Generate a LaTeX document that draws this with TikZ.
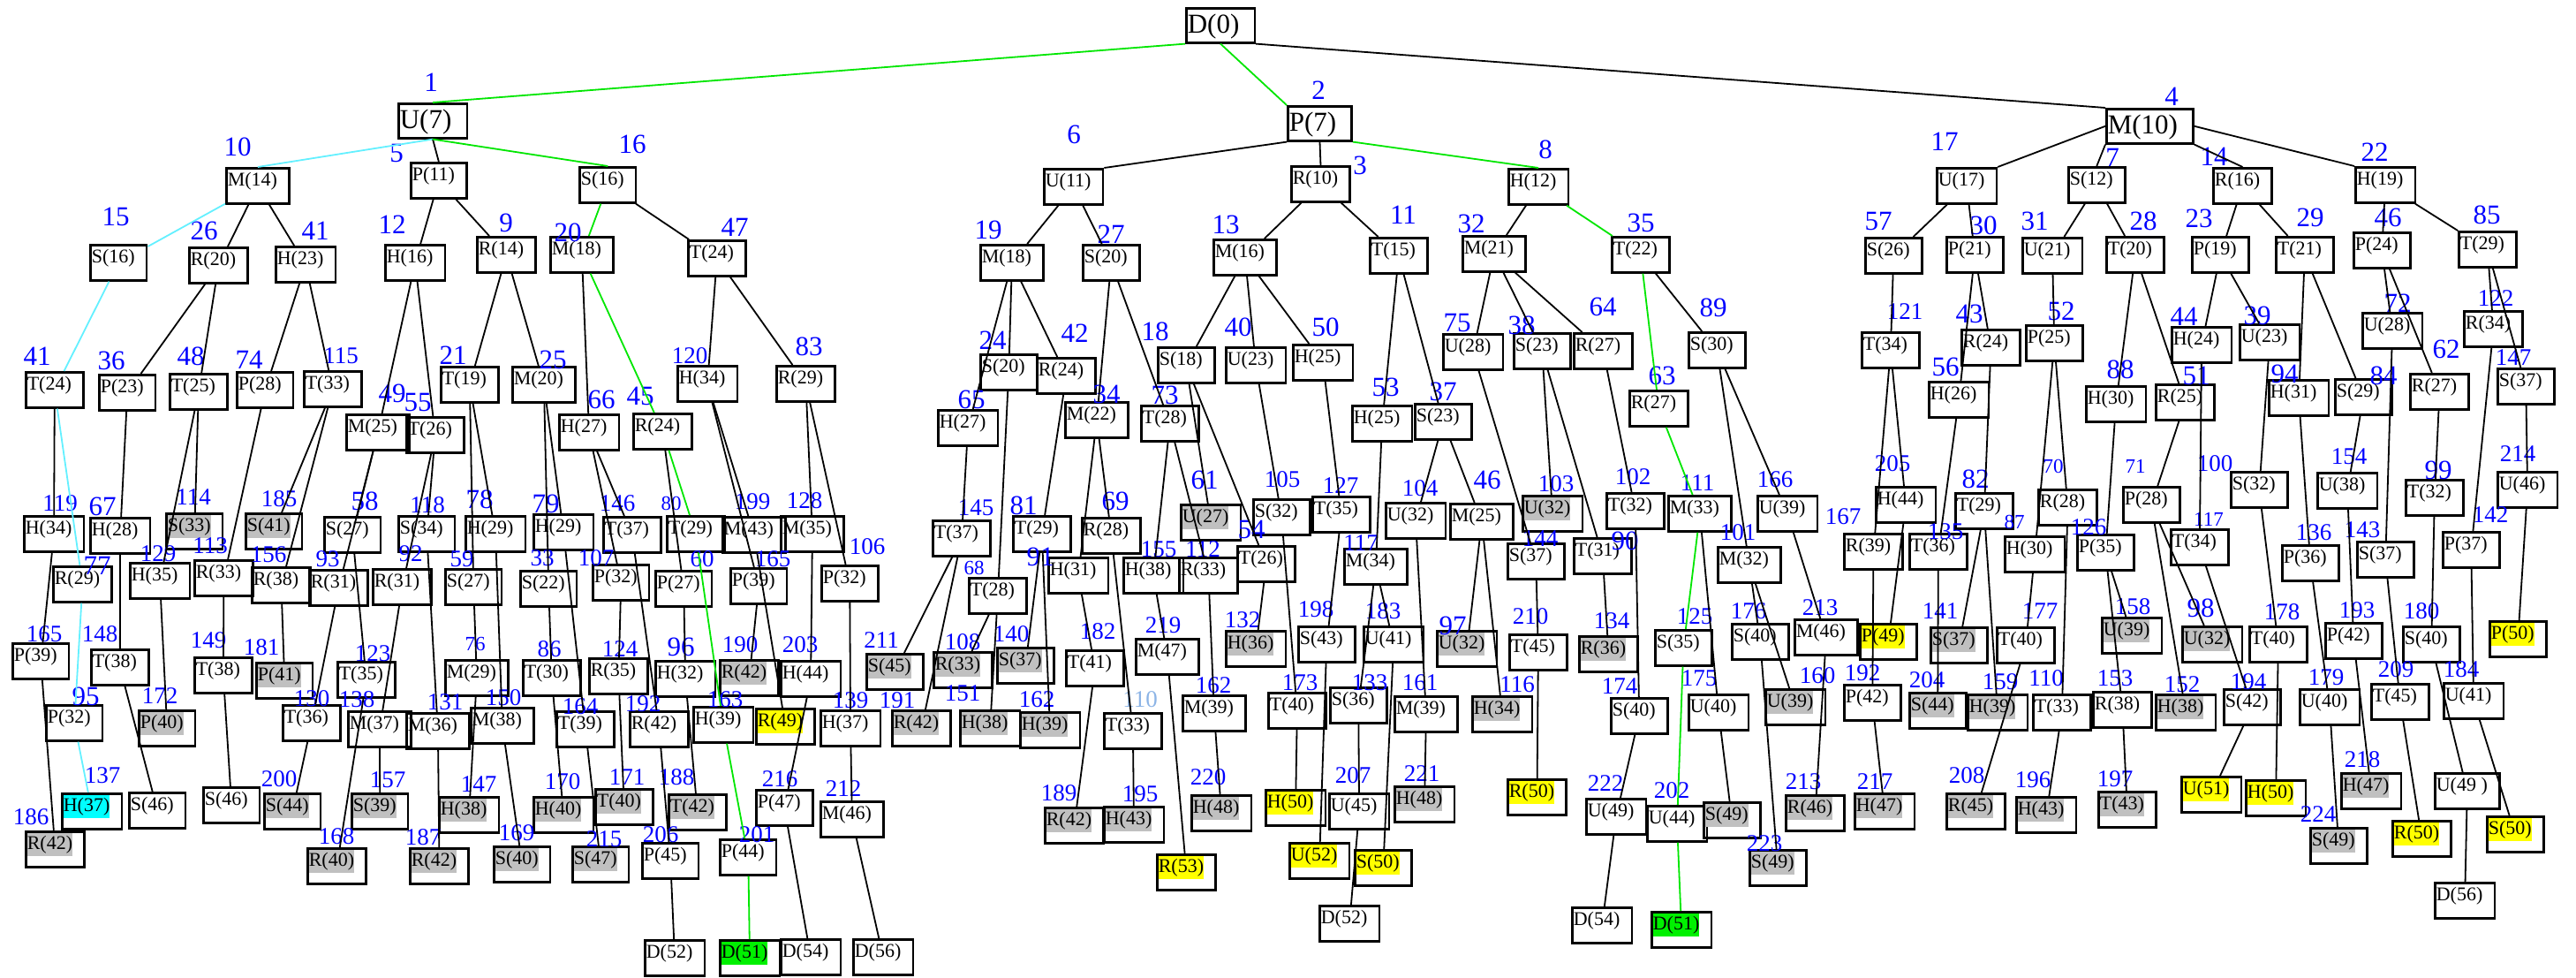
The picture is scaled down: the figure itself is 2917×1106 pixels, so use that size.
\documentclass[tikz,border=0pt]{standalone}
\usepackage{fontspec}
\setmainfont{Liberation Serif}

\definecolor{lgreen}{RGB}{0,230,0}
\definecolor{lcyan}{RGB}{100,240,255}
\definecolor{lblue}{RGB}{140,180,230}
\definecolor{hlgray}{RGB}{192,192,192}
\definecolor{hlyellow}{RGB}{255,255,0}
\definecolor{hlcyan}{RGB}{0,255,255}
\definecolor{hlgreen}{RGB}{0,240,0}

% coloured background behind a state label
\newcommand\hilite[2]{{\setlength{\fboxsep}{0pt}\colorbox{#1}{\strut #2}}}

\begin{document}
\begin{tikzpicture}
    [
    x=1pt, y=-1pt,
    frame/.style={draw,line width=2.6pt,anchor=north west,inner xsep=1.5pt,inner ysep=0pt},
    box/.style={frame,text height=20pt,text depth=20pt,font=\fontsize{22}{26}\selectfont,execute at end node={\hspace{12pt}}},
    bigbox/.style={frame,text height=28pt,text depth=11pt,font=\fontsize{31}{36}\selectfont,execute at end node={\hspace{16pt}}},
    idx/.style={text=blue,inner sep=0pt,font=\fontsize{31}{31}\selectfont},
    idxs/.style={idx,font=\fontsize{27}{27}\selectfont},
    idxt/.style={idx,font=\fontsize{23}{23}\selectfont},
    link/.style={line width=1.8pt},
    gpath/.style={link,draw=lgreen},
    cpath/.style={link,draw=lcyan},
    ]
    \useasboundingbox (0,0) rectangle (2917,1106);

    % root and first level
    \node (D0) at (1342,8) [bigbox] {D(0)};
    \node (U7) at (450,116) [bigbox] {U(7)};
    \node (P7) at (1457,119) [bigbox] {P(7)};
    \node (M10) at (2384,122) [bigbox] {M(10)};

    % second level
    \node (M14) at (255,189) [box] {M(14)};
    \node (P11) at (464,183) [box] {P(11)};
    \node (S16a) at (655,188) [box] {S(16)};
    \node (U11) at (1181,190) [box] {U(11)};
    \node (R10) at (1461,187) [box] {R(10)};
    \node (H12) at (1707,190) [box] {H(12)};
    \node (U17) at (2192,189) [box] {U(17)};
    \node (S12) at (2341,188) [box] {S(12)};
    \node (R16) at (2505,189) [box] {R(16)};
    \node (H19) at (2666,188) [box] {H(19)};

    % third level
    \node (S16b) at (101,276) [box] {S(16)};
    \node (R20) at (213,279) [box] {R(20)};
    \node (H23) at (311,278) [box] {H(23)};
    \node (H16) at (435,276) [box] {H(16)};
    \node (R14) at (539,267) [box] {R(14)};
    \node (M18a) at (622,267) [box] {M(18)};
    \node (T24b) at (778,271) [box] {T(24)};
    \node (M18b) at (1109,276) [box] {M(18)};
    \node (S20a) at (1225,276) [box] {S(20)};
    \node (M16) at (1373,270) [box] {M(16)};
    \node (T15) at (1550,268) [box] {T(15)};
    \node (M21) at (1655,266) [box] {M(21)};
    \node (T22) at (1824,267) [box] {T(22)};
    \node (S26) at (2111,268) [box] {S(26)};
    \node (P21) at (2203,267) [box] {P(21)};
    \node (U21) at (2289,268) [box] {U(21)};
    \node (T20) at (2384,267) [box] {T(20)};
    \node (P19) at (2481,267) [box] {P(19)};
    \node (T21) at (2576,267) [box] {T(21)};
    \node (P24) at (2664,262) [box] {P(24)};
    \node (T29a) at (2783,261) [box] {T(29)};

    % fourth level
    \node (T24a) at (28,420) [box] {T(24)};
    \node (P23) at (111,423) [box] {P(23)};
    \node (T25) at (191,422) [box] {T(25)};
    \node (P28) at (267,420) [box] {P(28)};
    \node (T33) at (343,419) [box] {T(33)};
    \node (M25) at (391,468) [box] {M(25)};
    \node (T26) at (459,471) [box] {T(26)};
    \node (T19) at (498,414) [box] {T(19)};
    \node (M20) at (579,414) [box] {M(20)};
    \node (H27a) at (632,468) [box] {H(27)};
    \node (R24a) at (716,467) [box] {R(24)};
    \node (H34a) at (766,413) [box] {H(34)};
    \node (R29a) at (878,413) [box] {R(29)};
    \node (S20b) at (1109,400) [box] {S(20)};
    \node (R24b) at (1173,404) [box] {R(24)};
    \node (H27b) at (1061,463) [box] {H(27)};
    \node (M22) at (1205,454) [box] {M(22)};
    \node (T28a) at (1291,458) [box] {T(28)};
    \node (S18) at (1310,392) [box] {S(18)};
    \node (U23a) at (1387,392) [box] {U(23)};
    \node (H25a) at (1463,389) [box] {H(25)};
    \node (H25b) at (1530,458) [box] {H(25)};
    \node (S23a) at (1601,456) [box] {S(23)};
    \node (U28a) at (1633,377) [box] {U(28)};
    \node (S23b) at (1713,376) [box] {S(23)};
    \node (R27a) at (1781,376) [box] {R(27)};
    \node (R27b) at (1844,441) [box] {R(27)};
    \node (S30) at (1911,375) [box] {S(30)};
    \node (T34a) at (2107,375) [box] {T(34)};
    \node (R24c) at (2220,372) [box] {R(24)};
    \node (P25) at (2293,367) [box] {P(25)};
    \node (H24) at (2458,369) [box] {H(24)};
    \node (U23b) at (2535,366) [box] {U(23)};
    \node (U28b) at (2674,353) [box] {U(28)};
    \node (R34) at (2789,351) [box] {R(34)};
    \node (S37a) at (2827,416) [box] {S(37)};
    \node (R27c) at (2728,422) [box] {R(27)};
    \node (S29) at (2643,428) [box] {S(29)};
    \node (H31) at (2568,429) [box] {H(31)};
    \node (R25) at (2440,434) [box] {R(25)};
    \node (H30a) at (2361,436) [box] {H(30)};
    \node (H26) at (2183,431) [box] {H(26)};

    % fifth level
    \node (H34b) at (26,583) [box] {H(34)};
    \node (H28) at (101,585) [box] {H(28)};
    \node (S33) at (187,580) [box] {\hilite{hlgray}{S(33)}};
    \node (S41) at (277,580) [box] {\hilite{hlgray}{S(41)}};
    \node (S27a) at (366,584) [box] {S(27)};
    \node (S34) at (450,583) [box] {S(34)};
    \node (H29a) at (526,583) [box] {H(29)};
    \node (H29b) at (603,581) [box] {H(29)};
    \node (T37a) at (682,584) [box] {T(37)};
    \node (R29b) at (59,640) [box] {R(29)};
    \node (H35) at (146,636) [box] {H(35)};
    \node (R33a) at (219,633) [box] {R(33)};
    \node (R38a) at (284,641) [box] {R(38)};
    \node (R31a) at (349,644) [box] {R(31)};
    \node (R31b) at (421,643) [box] {R(31)};
    \node (S27b) at (503,643) [box] {S(27)};
    \node (S22) at (588,645) [box] {S(22)};
    \node (P32a) at (670,638) [box] {P(32)};
    \node (T29b) at (754,583) [box] {T(29)};
    \node (M43) at (817,584) [box] {M(43)};
    \node (M35) at (883,583) [box] {M(35)};
    \node (P27) at (741,645) [box] {P(27)};
    \node (P39a) at (826,642) [box] {P(39)};
    \node (P32b) at (929,639) [box] {P(32)};
    \node (T37b) at (1055,588) [box] {T(37)};
    \node (T29c) at (1146,583) [box] {T(29)};
    \node (R28a) at (1224,585) [box] {R(28)};
    \node (U27) at (1336,570) [box] {\hilite{hlgray}{U(27)}};
    \node (S32a) at (1418,564) [box] {S(32)};
    \node (T28b) at (1096,653) [box] {T(28)};
    \node (H31a) at (1186,630) [box] {H(31)};
    \node (H38a) at (1271,630) [box] {H(38)};
    \node (R33b) at (1334,630) [box] {R(33)};
    \node (T26b) at (1400,617) [box] {T(26)};
    \node (T35a) at (1485,561) [box] {T(35)};
    \node (U32a) at (1568,568) [box] {U(32)};
    \node (M25b) at (1641,569) [box] {M(25)};
    \node (U32b) at (1723,560) [box] {\hilite{hlgray}{U(32)}};
    \node (T32a) at (1818,557) [box] {T(32)};
    \node (M33) at (1888,560) [box] {M(33)};
    \node (U39a) at (1989,560) [box] {U(39)};
    \node (H44a) at (2123,550) [box] {H(44)};
    \node (S37b) at (1706,614) [box] {S(37)};
    \node (T31) at (1781,608) [box] {T(31)};
    \node (M34) at (1521,620) [box] {M(34)};
    \node (M32) at (1944,618) [box] {M(32)};
    \node (R39a) at (2087,603) [box] {R(39)};
    \node (T36a) at (2161,603) [box] {T(36)};
    \node (T29d) at (2213,557) [box] {T(29)};
    \node (R28b) at (2307,553) [box] {R(28)};
    \node (P28b) at (2403,550) [box] {P(28)};
    \node (S32b) at (2525,533) [box] {S(32)};
    \node (U38) at (2623,534) [box] {U(38)};
    \node (T32b) at (2723,542) [box] {T(32)};
    \node (U46) at (2827,533) [box] {U(46)};
    \node (H30b) at (2269,606) [box] {H(30)};
    \node (P35) at (2351,604) [box] {P(35)};
    \node (T34b) at (2457,598) [box] {T(34)};
    \node (P36) at (2583,616) [box] {P(36)};
    \node (S37c) at (2668,612) [box] {S(37)};
    \node (P37) at (2765,601) [box] {P(37)};

    % sixth level
    \node (P39b) at (13,727) [box] {P(39)};
    \node (T38a) at (102,734) [box] {T(38)};
    \node (T38b) at (219,743) [box] {T(38)};
    \node (P41) at (289,749) [box] {\hilite{hlgray}{P(41)}};
    \node (T35b) at (381,748) [box] {T(35)};
    \node (M29) at (503,746) [box] {M(29)};
    \node (T30) at (591,746) [box] {T(30)};
    \node (R35) at (666,744) [box] {R(35)};
    \node (P32c) at (51,797) [box] {P(32)};
    \node (P40) at (156,803) [box] {\hilite{hlgray}{P(40)}};
    \node (T36b) at (319,797) [box] {T(36)};
    \node (M37) at (393,804) [box] {M(37)};
    \node (M36) at (459,806) [box] {M(36)};
    \node (M38) at (532,800) [box] {M(38)};
    \node (T39) at (629,804) [box] {T(39)};
    \node (R42a) at (712,804) [box] {R(42)};
    \node (H32) at (741,747) [box] {H(32)};
    \node (R42d) at (814,746) [box] {\hilite{hlgray}{R(42)}};
    \node (H44b) at (883,747) [box] {H(44)};
    \node (H39a) at (784,799) [box] {H(39)};
    \node (R49) at (855,801) [box] {\hilite{hlyellow}{R(49)}};
    \node (H37b) at (928,803) [box] {H(37)};
    \node (S45) at (980,739) [box] {\hilite{hlgray}{S(45)}};
    \node (R33c) at (1056,737) [box] {\hilite{hlgray}{R(33)}};
    \node (S37e) at (1128,732) [box] {\hilite{hlgray}{S(37)}};
    \node (T41) at (1206,735) [box] {T(41)};
    \node (M47) at (1285,722) [box] {M(47)};
    \node (H36a) at (1387,713) [box] {\hilite{hlgray}{H(36)}};
    \node (R42e) at (1009,803) [box] {\hilite{hlgray}{R(42)}};
    \node (H38c) at (1086,803) [box] {\hilite{hlgray}{H(38)}};
    \node (H39b) at (1154,805) [box] {\hilite{hlgray}{H(39)}};
    \node (T33a) at (1249,806) [box] {T(33)};
    \node (M39a) at (1338,786) [box] {M(39)};
    \node (T40d) at (1435,783) [box] {T(40)};
    \node (S43) at (1469,708) [box] {S(43)};
    \node (U41a) at (1543,708) [box] {U(41)};
    \node (U32c) at (1626,713) [box] {\hilite{hlgray}{U(32)}};
    \node (T45a) at (1708,717) [box] {T(45)};
    \node (R36) at (1787,719) [box] {\hilite{hlgray}{R(36)}};
    \node (S35) at (1873,712) [box] {S(35)};
    \node (S40a) at (1960,705) [box] {S(40)};
    \node (M46a) at (2031,700) [box] {M(46)};
    \node (P49a) at (2105,705) [box] {\hilite{hlyellow}{P(49)}};
    \node (S36) at (1505,777) [box] {S(36)};
    \node (M39b) at (1578,787) [box] {M(39)};
    \node (H34c) at (1666,787) [box] {\hilite{hlgray}{H(34)}};
    \node (S40d) at (1823,789) [box] {S(40)};
    \node (U40a) at (1911,785) [box] {U(40)};
    \node (U39c) at (1998,779) [box] {\hilite{hlgray}{U(39)}};
    \node (P42b) at (2087,774) [box] {P(42)};
    \node (S37d) at (2185,709) [box] {\hilite{hlgray}{S(37)}};
    \node (T40a) at (2260,709) [box] {T(40)};
    \node (U39b) at (2379,698) [box] {\hilite{hlgray}{U(39)}};
    \node (U32d) at (2470,708) [box] {\hilite{hlgray}{U(32)}};
    \node (T40b) at (2546,708) [box] {T(40)};
    \node (P42a) at (2632,704) [box] {P(42)};
    \node (S40b) at (2720,708) [box] {S(40)};
    \node (P50a) at (2818,702) [box] {\hilite{hlyellow}{P(50)}};
    \node (S44b) at (2161,783) [box] {\hilite{hlgray}{S(44)}};
    \node (H39c) at (2227,785) [box] {\hilite{hlgray}{H(39)}};
    \node (T33b) at (2301,785) [box] {T(33)};
    \node (R38b) at (2369,782) [box] {R(38)};
    \node (H38d) at (2440,785) [box] {\hilite{hlgray}{H(38)}};
    \node (S42) at (2517,779) [box] {S(42)};
    \node (U40b) at (2603,779) [box] {U(40)};
    \node (T45b) at (2684,773) [box] {T(45)};
    \node (U41b) at (2766,772) [box] {U(41)};

    % seventh level
    \node (H37a) at (69,897) [box] {\hilite{hlcyan}{H(37)}};
    \node (S46a) at (145,896) [box] {S(46)};
    \node (S46b) at (229,890) [box] {S(46)};
    \node (S44a) at (298,897) [box] {\hilite{hlgray}{S(44)}};
    \node (S39a) at (397,897) [box] {\hilite{hlgray}{S(39)}};
    \node (H38b) at (496,901) [box] {\hilite{hlgray}{H(38)}};
    \node (H40a) at (603,901) [box] {\hilite{hlgray}{H(40)}};
    \node (T40c) at (673,892) [box] {\hilite{hlgray}{T(40)}};
    \node (R42b) at (28,940) [box] {\hilite{hlgray}{R(42)}};
    \node (R40) at (347,959) [box] {\hilite{hlgray}{R(40)}};
    \node (R42c) at (463,959) [box] {\hilite{hlgray}{R(42)}};
    \node (S40c) at (558,957) [box] {\hilite{hlgray}{S(40)}};
    \node (S47) at (647,957) [box] {\hilite{hlgray}{S(47)}};
    \node (P45) at (726,953) [box] {P(45)};
    \node (T42) at (756,898) [box] {\hilite{hlgray}{T(42)}};
    \node (P47) at (855,893) [box] {P(47)};
    \node (M46b) at (928,906) [box] {M(46)};
    \node (P44) at (814,949) [box] {P(44)};
    \node (R42f) at (1182,913) [box] {\hilite{hlgray}{R(42)}};
    \node (H43a) at (1249,912) [box] {\hilite{hlgray}{H(43)}};
    \node (H48a) at (1348,899) [box] {\hilite{hlgray}{H(48)}};
    \node (R53) at (1309,966) [box] {\hilite{hlyellow}{R(53)}};
    \node (H50a) at (1432,893) [box] {\hilite{hlyellow}{H(50)}};
    \node (U45) at (1504,897) [box] {U(45)};
    \node (H48b) at (1578,889) [box] {\hilite{hlgray}{H(48)}};
    \node (R50a) at (1706,881) [box] {\hilite{hlyellow}{R(50)}};
    \node (U49a) at (1795,903) [box] {U(49)};
    \node (U44) at (1864,911) [box] {U(44)};
    \node (S49a) at (1928,907) [box] {\hilite{hlgray}{S(49)}};
    \node (R46) at (2021,899) [box] {\hilite{hlgray}{R(46)}};
    \node (H47a) at (2099,897) [box] {\hilite{hlgray}{H(47)}};
    \node (U52) at (1459,953) [box] {\hilite{hlyellow}{U(52)}};
    \node (S50a) at (1533,961) [box] {\hilite{hlyellow}{S(50)}};
    \node (S49b) at (1980,961) [box] {\hilite{hlgray}{S(49)}};
    \node (R45) at (2203,897) [box] {\hilite{hlgray}{R(45)}};
    \node (H43b) at (2282,901) [box] {\hilite{hlgray}{H(43)}};
    \node (T43) at (2375,895) [box] {\hilite{hlgray}{T(43)}};
    \node (U51) at (2469,878) [box] {\hilite{hlyellow}{U(51)}};
    \node (H50b) at (2542,882) [box] {\hilite{hlyellow}{H(50)}};
    \node (H47b) at (2650,874) [box] {\hilite{hlgray}{H(47)}};
    \node (U49b) at (2756,874) [box] {U(49 )};
    \node (S49c) at (2615,936) [box] {\hilite{hlgray}{S(49)}};
    \node (R50b) at (2708,928) [box] {\hilite{hlyellow}{R(50)}};
    \node (S50b) at (2815,923) [box] {\hilite{hlyellow}{S(50)}};

    % goal states
    \node (D52a) at (729,1063) [box] {D(52)};
    \node (D51a) at (814,1063) [box] {\hilite{hlgreen}{D(51)}};
    \node (D54a) at (883,1062) [box] {D(54)};
    \node (D56a) at (965,1062) [box] {D(56)};
    \node (D52b) at (1493,1024) [box] {D(52)};
    \node (D54b) at (1779,1026) [box] {D(54)};
    \node (D51b) at (1869,1031) [box] {\hilite{hlgreen}{D(51)}};
    \node (D56b) at (2756,998) [box] {D(56)};

    % expansion order
    \node (i1) at (488,93) [idx] {1};
    \node (i2) at (1493,102) [idx] {2};
    \node (i3) at (1540,187) [idx] {3};
    \node (i4) at (2459,109) [idx] {4};
    \node (i5) at (449,173) [idx] {5};
    \node (i6) at (1216,152) [idx] {6};
    \node (i7) at (2392,178) [idx] {7};
    \node (i8) at (1750,169) [idx] {8};
    \node (i9) at (573,252) [idx] {9};
    \node (i10) at (269,166) [idx] {10};
    \node (i11) at (1589,243) [idx] {11};
    \node (i12) at (444,254) [idx] {12};
    \node (i13) at (1388,254) [idx] {13};
    \node (i14) at (2507,177) [idx] {14};
    \node (i15) at (131,245) [idx] {15};
    \node (i16) at (716,163) [idx] {16};
    \node (i17) at (2202,160) [idx] {17};
    \node (i18) at (1308,375) [idx] {18};
    \node (i19) at (1119,260) [idx] {19};
    \node (i20) at (643,263) [idx] {20};
    \node (i21) at (513,402) [idx] {21};
    \node (i22) at (2689,172) [idx] {22};
    \node (i23) at (2490,247) [idx] {23};
    \node (i24) at (1124,385) [idx] {24};
    \node (i25) at (626,407) [idx] {25};
    \node (i26) at (231,261) [idx] {26};
    \node (i27) at (1258,265) [idx] {27};
    \node (i28) at (2427,250) [idx] {28};
    \node (i29) at (2616,246) [idx] {29};
    \node (i30) at (2246,255) [idx] {30};
    \node (i31) at (2304,250) [idx] {31};
    \node (i32) at (1666,253) [idx] {32};
    \node (i33) at (614,632) [idxs] {33};
    \node (i34) at (1253,446) [idx] {34};
    \node (i35) at (1858,252) [idx] {35};
    \node (i36) at (126,408) [idx] {36};
    \node (i37) at (1634,443) [idx] {37};
    \node (i38) at (1723,368) [idx] {38};
    \node (i39) at (2556,357) [idx] {39};
    \node (i40) at (1402,370) [idx] {40};
    \node (i41a) at (357,261) [idx] {41};
    \node (i41b) at (42,403) [idx] {41};
    \node (i42) at (1217,377) [idx] {42};
    \node (i43) at (2230,355) [idx] {43};
    \node (i44) at (2473,358) [idx] {44};
    \node (i45) at (725,448) [idx] {45};
    \node (i46a) at (2704,246) [idx] {46};
    \node (i46b) at (1684,543) [idx] {46};
    \node (i47) at (832,257) [idx] {47};
    \node (i48) at (216,403) [idx] {48};
    \node (i49) at (444,445) [idx] {49};
    \node (i50) at (1501,370) [idx] {50};
    \node (i51) at (2487,425) [idx] {51};
    \node (i52) at (2334,352) [idx] {52};
    \node (i53) at (1569,438) [idx] {53};
    \node (i54) at (1417,599) [idx] {54};
    \node (i55) at (473,455) [idx] {55};
    \node (i56) at (2203,415) [idx] {56};
    \node (i57) at (2127,250) [idx] {57};
    \node (i58) at (413,567) [idx] {58};
    \node (i59) at (523,633) [idxs] {59};
    \node (i60) at (795,633) [idxs] {60};
    \node (i61) at (1364,543) [idx] {61};
    \node (i62) at (2770,395) [idx] {62};
    \node (i63) at (1882,425) [idx] {63};
    \node (i64) at (1815,347) [idx] {64};
    \node (i65) at (1100,452) [idx] {65};
    \node (i66) at (681,452) [idx] {66};
    \node (i67) at (116,573) [idx] {67};
    \node (i68) at (1103,643) [idxt] {68};
    \node (i69) at (1263,567) [idx] {69};
    \node (i70) at (2325,528) [idxt] {70};
    \node (i71) at (2418,528) [idxt] {71};
    \node (i72) at (2715,343) [idx] {72};
    \node (i73) at (1319,447) [idx] {73};
    \node (i74) at (282,407) [idx] {74};
    \node (i75) at (1650,365) [idx] {75};
    \node (i76) at (538,729) [idxt] {76};
    \node (i77) at (110,640) [idx] {77};
    \node (i78) at (543,565) [idx] {78};
    \node (i79) at (618,570) [idx] {79};
    \node (i80) at (760,570) [idxt] {80};
    \node (i81) at (1159,572) [idx] {81};
    \node (i82) at (2237,542) [idx] {82};
    \node (i83) at (916,392) [idx] {83};
    \node (i84) at (2699,425) [idx] {84};
    \node (i85) at (2816,243) [idx] {85};
    \node (i86) at (622,735) [idxs] {86};
    \node (i87) at (2281,591) [idxt] {87};
    \node (i88) at (2401,418) [idx] {88};
    \node (i89) at (1940,348) [idx] {89};
    \node (i90) at (1840,612) [idx] {90};
    \node (i91) at (1178,630) [idx] {91};
    \node (i92) at (465,627) [idxs] {92};
    \node (i93) at (371,633) [idxs] {93};
    \node (i94) at (2587,423) [idx] {94};
    \node (i95) at (97,788) [idx] {95};
    \node (i96) at (771,732) [idx] {96};
    \node (i97) at (1645,708) [idx] {97};
    \node (i98) at (2492,688) [idx] {98};
    \node (i99) at (2761,532) [idx] {99};
    \node (i100) at (2508,525) [idxs] {100};
    \node (i101) at (1968,603) [idxs] {101};
    \node (i102) at (1849,540) [idxs] {102};
    \node (i103) at (1762,548) [idxs] {103};
    \node (i104) at (1608,553) [idxs] {104};
    \node (i105) at (1452,543) [idxs] {105};
    \node (i106) at (982,619) [idxs] {106};
    \node (i107) at (675,632) [idxs] {107};
    \node (i108) at (1090,727) [idxs] {108};
    \node (i110a) at (1291,792) [idxs,text=lblue] {110};
    \node (i110b) at (2317,768) [idxs] {110};
    \node (i111) at (1922,547) [idxs] {111};
    \node (i112) at (1362,622) [idxs] {112};
    \node (i113) at (238,618) [idxs] {113};
    \node (i114) at (219,563) [idxs] {114};
    \node (i115) at (386,403) [idxs] {115};
    \node (i116) at (1718,775) [idxs] {116};
    \node (i117a) at (1541,615) [idxs] {117};
    \node (i117b) at (2501,588) [idxt] {117};
    \node (i118) at (484,572) [idxs] {118};
    \node (i119) at (68,570) [idxs] {119};
    \node (i120) at (781,403) [idxs] {120};
    \node (i121) at (2157,353) [idxs] {121};
    \node (i122) at (2826,338) [idxs] {122};
    \node (i123) at (422,740) [idxs] {123};
    \node (i124) at (702,735) [idxs] {124};
    \node (i125) at (1919,698) [idxs] {125};
    \node (i126) at (2365,597) [idxs] {126};
    \node (i127) at (1518,550) [idxs] {127};
    \node (i128) at (911,567) [idxs] {128};
    \node (i129) at (179,627) [idxs] {129};
    \node (i130) at (353,791) [idxs] {130};
    \node (i131) at (504,795) [idxs] {131};
    \node (i132) at (1407,702) [idxs] {132};
    \node (i133) at (1551,773) [idxs] {133};
    \node (i134) at (1825,703) [idxs] {134};
    \node (i135) at (2203,602) [idxs] {135};
    \node (i136) at (2620,603) [idxs] {136};
    \node (i137) at (116,878) [idxs] {137};
    \node (i138) at (404,792) [idxs] {138};
    \node (i139) at (963,793) [idxs] {139};
    \node (i140) at (1145,718) [idxs] {140};
    \node (i141) at (2197,692) [idxs] {141};
    \node (i142) at (2820,583) [idxs] {142};
    \node (i143) at (2675,600) [idxs] {143};
    \node (i144) at (1744,610) [idxs] {144};
    \node (i145) at (1105,575) [idxs] {145};
    \node (i146) at (699,570) [idxs] {146};
    \node (i147a) at (542,888) [idxs] {147};
    \node (i147b) at (2846,405) [idxs] {147};
    \node (i148) at (113,718) [idxs] {148};
    \node (i149) at (236,725) [idxs] {149};
    \node (i150) at (570,790) [idxs] {150};
    \node (i151) at (1090,785) [idxs] {151};
    \node (i152) at (2471,775) [idxs] {152};
    \node (i153) at (2395,768) [idxs] {153};
    \node (i154) at (2660,517) [idxs] {154};
    \node (i155) at (1312,622) [idxs] {155};
    \node (i156) at (304,628) [idxs] {156};
    \node (i157) at (439,883) [idxs] {157};
    \node (i158) at (2415,687) [idxs] {158};
    \node (i159) at (2265,772) [idxs] {159};
    \node (i160) at (2058,765) [idxs] {160};
    \node (i161) at (1608,773) [idxs] {161};
    \node (i162a) at (1174,792) [idxs] {162};
    \node (i162b) at (1374,776) [idxs] {162};
    \node (i163) at (821,792) [idxs] {163};
    \node (i164) at (657,800) [idxs] {164};
    \node (i165a) at (50,718) [idxs] {165};
    \node (i165b) at (875,633) [idxs] {165};
    \node (i166) at (2010,543) [idxs] {166};
    \node (i167) at (2087,585) [idxs] {167};
    \node (i168) at (381,947) [idxs] {168};
    \node (i169) at (585,943) [idxs] {169};
    \node (i170) at (637,885) [idxs] {170};
    \node (i171) at (710,880) [idxs] {171};
    \node (i172) at (181,788) [idxs] {172};
    \node (i173) at (1472,773) [idxs] {173};
    \node (i174) at (1834,777) [idxs] {174};
    \node (i175) at (1924,768) [idxs] {175};
    \node (i176) at (1980,692) [idxs] {176};
    \node (i177) at (2310,692) [idxs] {177};
    \node (i178) at (2584,693) [idxs] {178};
    \node (i179) at (2634,767) [idxs] {179};
    \node (i180) at (2742,692) [idxs] {180};
    \node (i181) at (296,733) [idxs] {181};
    \node (i182) at (1243,715) [idxs] {182};
    \node (i183) at (1566,692) [idxs] {183};
    \node (i184) at (2787,758) [idxs] {184};
    \node (i185) at (316,565) [idxs] {185};
    \node (i186) at (35,925) [idxs] {186};
    \node (i187) at (479,948) [idxs] {187};
    \node (i188) at (766,880) [idxs] {188};
    \node (i189) at (1199,898) [idxs] {189};
    \node (i190) at (838,730) [idxs] {190};
    \node (i191) at (1016,793) [idxs] {191};
    \node (i192a) at (728,797) [idxs] {192};
    \node (i192b) at (2109,762) [idxs] {192};
    \node (i193) at (2669,691) [idxs] {193};
    \node (i194) at (2546,772) [idxs] {194};
    \node (i195) at (1291,899) [idxs] {195};
    \node (i196) at (2302,883) [idxs] {196};
    \node (i197) at (2395,882) [idxs] {197};
    \node (i198) at (1490,690) [idxs] {198};
    \node (i199) at (852,568) [idxs] {199};
    \node (i200) at (316,882) [idxs] {200};
    \node (i201) at (857,945) [idxs] {201};
    \node (i202) at (1893,895) [idxs] {202};
    \node (i203) at (906,730) [idxs] {203};
    \node (i204) at (2182,770) [idxs] {204};
    \node (i205) at (2143,525) [idxs] {205};
    \node (i206) at (748,945) [idxs] {206};
    \node (i207) at (1532,878) [idxs] {207};
    \node (i208) at (2227,878) [idxs] {208};
    \node (i209) at (2713,758) [idxs] {209};
    \node (i210) at (1733,698) [idxs] {210};
    \node (i211) at (998,725) [idxs] {211};
    \node (i212) at (955,893) [idxs] {212};
    \node (i213a) at (2061,688) [idxs] {213};
    \node (i213b) at (2042,885) [idxs] {213};
    \node (i214) at (2851,514) [idxs] {214};
    \node (i215) at (684,950) [idxs] {215};
    \node (i216) at (883,882) [idxs] {216};
    \node (i217) at (2123,885) [idxs] {217};
    \node (i218) at (2675,860) [idxs] {218};
    \node (i219) at (1317,708) [idxs] {219};
    \node (i220) at (1368,880) [idxs] {220};
    \node (i221) at (1610,876) [idxs] {221};
    \node (i222) at (1818,887) [idxs] {222};
    \node (i223) at (1998,955) [idxs] {223};
    \node (i224) at (2625,922) [idxs] {224};

    % search tree links
    \draw [gpath] (D0.south west) to (U7.north);
    \draw [gpath] (D0.south) to (P7.north west);
    \draw [link] (D0.south east) to (M10.north west);
    \draw [cpath] (U7.south) to (M14.north);
    \draw [link] (U7.south) to (P11.north);
    \draw [gpath] (U7.south) to (S16a.north);
    \draw [link] (P7.south west) to (U11.north east);
    \draw [link] (P7.south) to (R10.north);
    \draw [gpath] (P7.south east) to (H12.north);
    \draw [link] (M10.west) to (U17.north east);
    \draw [link] (M10.south west) to (S12.north);
    \draw [link] (M10.south east) to (R16.north);
    \draw [link] (M10.east) to (H19.north west);
    \draw [cpath] (M14) to (S16b);
    \draw [link] (M14) to (R20);
    \draw [link] (M14) to (H23);
    \draw [link] (P11) to (H16);
    \draw [link] (P11) to (R14);
    \draw [gpath] (S16a) to (M18a);
    \draw [link] (S16a) to (T24b);
    \draw [link] (U11) to (M18b);
    \draw [link] (U11) to (S20a);
    \draw [link] (R10) to (M16);
    \draw [link] (R10) to (T15);
    \draw [link] (H12) to (M21);
    \draw [gpath] (H12) to (T22);
    \draw [link] (U17) to (S26);
    \draw [link] (U17) to (P21);
    \draw [link] (S12) to (U21);
    \draw [link] (S12) to (T20);
    \draw [link] (R16) to (P19);
    \draw [link] (R16) to (T21);
    \draw [link] (H19) to (P24);
    \draw [link] (H19) to (T29a);
    \draw [cpath] (S16b) to (T24a);
    \draw [link] (R20) to (P23);
    \draw [link] (R20) to (T25);
    \draw [link] (H23) to (P28);
    \draw [link] (H23) to (T33);
    \draw [link] (H16) to (M25);
    \draw [link] (H16) to (T26);
    \draw [link] (R14) to (T19);
    \draw [link] (R14) to (M20);
    \draw [link] (M18a) to (H27a);
    \draw [gpath] (M18a) to (R24a);
    \draw [link] (T24b) to (H34a);
    \draw [link] (T24b) to (R29a);
    \draw [link] (M18b) to (H27b);
    \draw [link] (M18b) to (S20b);
    \draw [link] (M18b) to (R24b);
    \draw [link] (S20a) to (M22);
    \draw [link] (S20a) to (T28a);
    \draw [link] (M16) to (S18);
    \draw [link] (M16) to (U23a);
    \draw [link] (M16) to (H25a);
    \draw [link] (T15) to (H25b);
    \draw [link] (T15) to (S23a);
    \draw [link] (M21) to (U28a);
    \draw [link] (M21) to (S23b);
    \draw [link] (M21) to (R27a);
    \draw [gpath] (T22) to (R27b);
    \draw [link] (T22) to (S30);
    \draw [link] (S26) to (T34a);
    \draw [link] (P21) to (H26);
    \draw [link] (P21) to (R24c);
    \draw [link] (U21) to (P25);
    \draw [link] (T20) to (H30a);
    \draw [link] (T20) to (R25);
    \draw [link] (P19) to (H24);
    \draw [link] (P19) to (U23b);
    \draw [link] (T21) to (H31);
    \draw [link] (T21) to (S29);
    \draw [link] (P24) to (U28b);
    \draw [link] (P24) to (R27c);
    \draw [link] (T29a) to (R34);
    \draw [link] (T29a) to (S37a);
    \draw [link] (T24a) to (H34b);
    \draw [cpath] (T24a) to (R29b);
    \draw [link] (P23) to (H28);
    \draw [link] (T25) to (S33);
    \draw [link] (T25) to (H35);
    \draw [link] (P28) to (R33a);
    \draw [link] (T33) to (S41);
    \draw [link] (T33) to (R38a);
    \draw [link] (M25) to (S27a);
    \draw [link] (M25) to (R31a);
    \draw [link] (T26) to (S34);
    \draw [link] (T26) to (R31b);
    \draw [link] (T19) to (H29a);
    \draw [link] (T19) to (S27b);
    \draw [link] (M20) to (S22);
    \draw [link] (M20) to (H29b);
    \draw [link] (H27a) to (T37a);
    \draw [link] (H27a) to (P32a);
    \draw [gpath] (R24a) to (T29b);
    \draw [link] (R24a) to (P27);
    \draw [link] (H34a) to (M43);
    \draw [link] (H34a) to (P39a);
    \draw [link] (R29a) to (M35);
    \draw [link] (R29a) to (P32b);
    \draw [link] (H27b) to (T37b);
    \draw [link] (S20b) to (T28b);
    \draw [link] (R24b) to (T29c);
    \draw [link] (M22) to (H31a);
    \draw [link] (M22) to (R28a);
    \draw [link] (T28a) to (H38a);
    \draw [link] (T28a) to (R33b);
    \draw [link] (S18) to (U27);
    \draw [link] (S18) to (T26b);
    \draw [link] (U23a) to (S32a);
    \draw [link] (H25a) to (T35a);
    \draw [link] (H25b) to (M34);
    \draw [link] (S23a) to (U32a);
    \draw [link] (S23a) to (M25b);
    \draw [link] (U28a) to (S37b);
    \draw [link] (S23b) to (U32b);
    \draw [link] (S23b) to (T31);
    \draw [link] (R27a) to (T32a);
    \draw [gpath] (R27b) to (M33);
    \draw [link] (S30) to (M32);
    \draw [link] (S30) to (U39a);
    \draw [link] (T34a) to (R39a);
    \draw [link] (T34a) to (H44a);
    \draw [link] (H26) to (T36a);
    \draw [link] (R24c) to (T29d);
    \draw [link] (P25) to (H30b);
    \draw [link] (P25) to (R28b);
    \draw [link] (H30a) to (P35);
    \draw [link] (R25) to (P28b);
    \draw [link] (H24) to (T34b);
    \draw [link] (U23b) to (S32b);
    \draw [link] (H31) to (P36);
    \draw [link] (S29) to (U38);
    \draw [link] (U28b) to (S37c);
    \draw [link] (R27c) to (T32b);
    \draw [link] (R34) to (P37);
    \draw [link] (S37a) to (U46);
    \draw [link] (H34b) to (P39b);
    \draw [cpath] (R29b) to (P32c);
    \draw [link] (H28) to (T38a);
    \draw [link] (H35) to (P40);
    \draw [link] (R33a) to (T38b);
    \draw [link] (R38a) to (P41);
    \draw [link] (S27a) to (T35b);
    \draw [link] (R31a) to (T36b);
    \draw [link] (R31b) to (M37);
    \draw [link] (S34) to (M36);
    \draw [link] (S27b) to (M29);
    \draw [link] (H29a) to (M38);
    \draw [link] (S22) to (T30);
    \draw [link] (H29b) to (T39);
    \draw [link] (P32a) to (R35);
    \draw [link] (T37a) to (R42a);
    \draw [link] (P27) to (H32);
    \draw [link] (P39a) to (R42d);
    \draw [link] (M35) to (H44b);
    \draw [link] (P32b) to (H37b);
    \draw [gpath] (T29b) to (H39a);
    \draw [link] (M43) to (R49);
    \draw [link] (T37b) to (S45);
    \draw [link] (T37b) to (R42e);
    \draw [link] (T28b) to (R33c);
    \draw [link] (T28b) to (H38c);
    \draw [link] (T29c) to (S37e);
    \draw [link] (T29c) to (H39b);
    \draw [link] (H31a) to (T41);
    \draw [link] (R28a) to (T33a);
    \draw [link] (H38a) to (M47);
    \draw [link] (R33b) to (M39a);
    \draw [link] (T26b) to (H36a);
    \draw [link] (S32a) to (T40d);
    \draw [link] (T35a) to (S43);
    \draw [link] (M34) to (S36);
    \draw [link] (M34) to (U41a);
    \draw [link] (U32a) to (M39b);
    \draw [link] (M25b) to (U32c);
    \draw [link] (M25b) to (H34c);
    \draw [link] (S37b) to (T45a);
    \draw [link] (T31) to (R36);
    \draw [link] (T32a) to (S40d);
    \draw [gpath] (M33) to (S35);
    \draw [link] (M33) to (U40a);
    \draw [link] (M32) to (S40a);
    \draw [link] (M32) to (U39c);
    \draw [link] (U39a) to (M46a);
    \draw [link] (R39a) to (P42b);
    \draw [link] (H44a) to (P49a);
    \draw [link] (T36a) to (S44b);
    \draw [link] (T29d) to (S37d);
    \draw [link] (T29d) to (H39c);
    \draw [link] (H30b) to (T40a);
    \draw [link] (R28b) to (T33b);
    \draw [link] (P35) to (U39b);
    \draw [link] (P35) to (R38b);
    \draw [link] (P28b) to (U32d);
    \draw [link] (P28b) to (H38d);
    \draw [link] (T34b) to (S42);
    \draw [link] (S32b) to (T40b);
    \draw [link] (P36) to (U40b);
    \draw [link] (U38) to (P42a);
    \draw [link] (S37c) to (T45b);
    \draw [link] (T32b) to (S40b);
    \draw [link] (P37) to (U41b);
    \draw [link] (U46) to (P50a);
    \draw [link] (P39b) to (R42b);
    \draw [cpath] (P32c) to (H37a);
    \draw [link] (T38a) to (S46a);
    \draw [link] (T38b) to (S46b);
    \draw [link] (T36b) to (S44a);
    \draw [link] (T35b) to (R40);
    \draw [link] (M37) to (S39a);
    \draw [link] (M36) to (R42c);
    \draw [link] (M29) to (H38b);
    \draw [link] (M38) to (S40c);
    \draw [link] (T30) to (H40a);
    \draw [link] (T39) to (S47);
    \draw [link] (R35) to (T40c);
    \draw [link] (R42a) to (P45);
    \draw [link] (H32) to (T42);
    \draw [gpath] (H39a) to (P44);
    \draw [link] (H44b) to (P47);
    \draw [link] (H37b) to (M46b);
    \draw [link] (T41) to (R42f);
    \draw [link] (T33a) to (H43a);
    \draw [link] (M39a) to (H48a);
    \draw [link] (M47) to (R53);
    \draw [link] (T40d) to (H50a);
    \draw [link] (S43) to (U52);
    \draw [link] (U41a) to (S50a);
    \draw [link] (S36) to (U45);
    \draw [link] (M39b) to (H48b);
    \draw [link] (T45a) to (R50a);
    \draw [link] (S40d) to (U49a);
    \draw [gpath] (S35) to (U44);
    \draw [link] (U40a) to (S49a);
    \draw [link] (S40a) to (S49b);
    \draw [link] (M46a) to (R46);
    \draw [link] (P42b) to (H47a);
    \draw [link] (T40a) to (R45);
    \draw [link] (T33b) to (H43b);
    \draw [link] (R38b) to (T43);
    \draw [link] (S42) to (U51);
    \draw [link] (T40b) to (H50b);
    \draw [link] (U40b) to (S49c);
    \draw [link] (P42a) to (H47b);
    \draw [link] (T45b) to (R50b);
    \draw [link] (S40b) to (U49b);
    \draw [link] (U41b) to (S50b);
    \draw [link] (P45) to (D52a);
    \draw [gpath] (P44) to (D51a);
    \draw [link] (P47) to (D54a);
    \draw [link] (M46b) to (D56a);
    \draw [link] (U45) to (D52b);
    \draw [link] (U49a) to (D54b);
    \draw [gpath] (U44) to (D51b);
    \draw [link] (U49b) to (D56b);
  \end{tikzpicture}
\end{document}
